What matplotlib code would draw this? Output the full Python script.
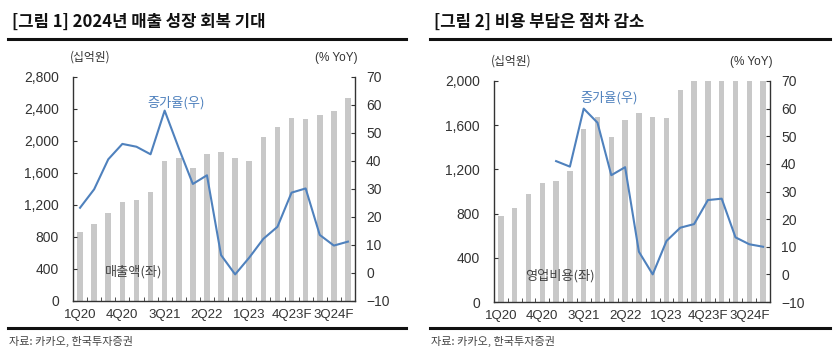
import numpy as np
import matplotlib
matplotlib.use("Agg")
import matplotlib.pyplot as plt
from matplotlib.ticker import FixedLocator

plt.rcParams['font.family'] = ['Liberation Sans', 'Noto Sans CJK KR', 'DejaVu Sans']

quarters = ['1Q20','2Q20','3Q20','4Q20','1Q21','2Q21','3Q21','4Q21','1Q22','2Q22',
            '3Q22','4Q22','1Q23','2Q23','3Q23','4Q23F','1Q24F','2Q24F','3Q24F','4Q24F']
tick_labels = ['1Q20','4Q20','3Q21','2Q22','1Q23','4Q23F','3Q24F']

revenue = [866, 958, 1104, 1237, 1262, 1362, 1746, 1792, 1658, 1833,
           1867, 1783, 1746, 2054, 2171, 2283, 2275, 2325, 2379, 2541]
revenue_yoy = [23.3, 29.9, 40.6, 46.1, 45.1, 42.4, 58.0, 44.6, 31.8, 34.9,
               6.4, -0.5, 5.5, 12.2, 16.5, 28.7, 30.2, 13.6, 9.8, 11.2]

opex = [775, 853, 973, 1081, 1096, 1183, 1565, 1670, 1489, 1646,
        1706, 1670, 1664, 1916, 2030, 2140, 2130, 2180, 2230, 2380]
opex_yoy = [np.nan, np.nan, np.nan, np.nan, 41.0, 39.0, 60.0, 54.9, 35.9, 38.8,
            8.2, 0.0, 12.1, 16.9, 18.2, 26.9, 27.4, 13.4, 10.9, 10.0]

BAR = '#c8c8c8'
LINE = '#4f81bd'
TXT = '#333333'

fig = plt.figure(figsize=(8.38, 3.54), dpi=100)

def panel(rect, bars, yoy, ymax, ystep, bar_label, bar_label_xy, yoy_label_xy):
    ax = fig.add_axes(rect)
    x = np.arange(len(quarters))
    ax.bar(x, bars, width=0.4, color=BAR, zorder=1)
    ax.set_xlim(-0.5, len(quarters) - 0.5)
    ax.set_ylim(0, ymax)
    yt = np.arange(0, ymax + 1, ystep)
    ax.set_yticks(yt)
    ax.set_yticklabels([f'{int(v):,}' for v in yt])
    ax.set_xticks(np.arange(0, len(quarters), 3))
    ax.set_xticklabels(tick_labels)
    ax.xaxis.set_minor_locator(FixedLocator(np.arange(-0.5, len(quarters), 1)))
    ax.tick_params(axis='x', which='major', length=0, labelsize=9.5, colors=TXT, pad=6)
    ax.tick_params(axis='x', which='minor', direction='in', length=3, color='#333333')
    ax.tick_params(axis='y', direction='in', length=3, labelsize=10, colors=TXT, pad=10)
    for s in ['top', 'right']:
        ax.spines[s].set_visible(False)
    for s in ['left', 'bottom']:
        ax.spines[s].set_color('#333333')
        ax.spines[s].set_linewidth(1.0)
    ax2 = ax.twinx()
    ax2.plot(x, yoy, color=LINE, lw=1.5, zorder=3)
    ax2.set_ylim(-10, 70)
    ax2.set_yticks(np.arange(-10, 71, 10))
    ax2.set_yticklabels(['\u221210' if v < 0 else str(v) for v in range(-10, 71, 10)])
    ax2.tick_params(axis='y', direction='in', length=3, labelsize=10, colors=TXT, pad=8)
    for s in ['top', 'left', 'bottom']:
        ax2.spines[s].set_visible(False)
    ax2.spines['right'].set_color('#333333')
    ax2.spines['right'].set_linewidth(1.0)
    ax.text(-0.01, 1.06, '(십억원)', transform=ax.transAxes, fontsize=8.5, color=TXT,
            family=['Noto Sans CJK KR'], ha='left', va='bottom')
    ax.text(1.01, 1.06, '(% YoY)', transform=ax.transAxes, fontsize=8.5, color=TXT,
            ha='right', va='bottom')
    fig.text(bar_label_xy[0], bar_label_xy[1], bar_label, fontsize=9.5, color='#444444',
             family=['Noto Sans CJK KR'], ha='left', va='center')
    fig.text(yoy_label_xy[0], yoy_label_xy[1], '증가율(우)', fontsize=9.5, color=LINE,
             family=['Noto Sans CJK KR'], ha='left', va='center')
    return ax

W, H = 838, 354
def fr(x0, y0, x1, y1):
    return [x0 / W, 1 - y1 / H, (x1 - x0) / W, (y1 - y0) / H]

panel(fr(73, 77, 355, 301), revenue, revenue_yoy, 2800, 400, '매출액(좌)',
      (105 / W, 1 - 272 / H), (147 / W, 1 - 103 / H))
panel(fr(494, 81, 770, 302), opex, opex_yoy, 2000, 400, '영업비용(좌)',
      (525 / W, 1 - 276 / H), (580 / W, 1 - 98 / H))

# titles, rules, sources
for (x0, x1, title) in [(8, 406, '[그림 1] 2024년 매출 성장 회복 기대'),
                        (430, 830, '[그림 2] 비용 부담은 점차 감소')]:
    fig.text((x0 + 4) / W, 1 - 22 / H, title, fontsize=12, fontweight='bold',
             family=['Noto Sans CJK KR'], color='#111111', ha='left', va='center')
    fig.add_artist(plt.Line2D([x0 / W, x1 / W], [1 - 39 / H, 1 - 39 / H],
                              color='#111111', lw=2.2))
    fig.add_artist(plt.Line2D([x0 / W, x1 / W], [1 - 328 / H, 1 - 328 / H],
                              color='#111111', lw=2.2))
    fig.text((x0 + 1) / W, 1 - 341 / H, '자료: 카카오, 한국투자증권', fontsize=8,
             family=['Noto Sans CJK KR'], color='#444444', ha='left', va='center')

fig.savefig('out.png', dpi=100)
